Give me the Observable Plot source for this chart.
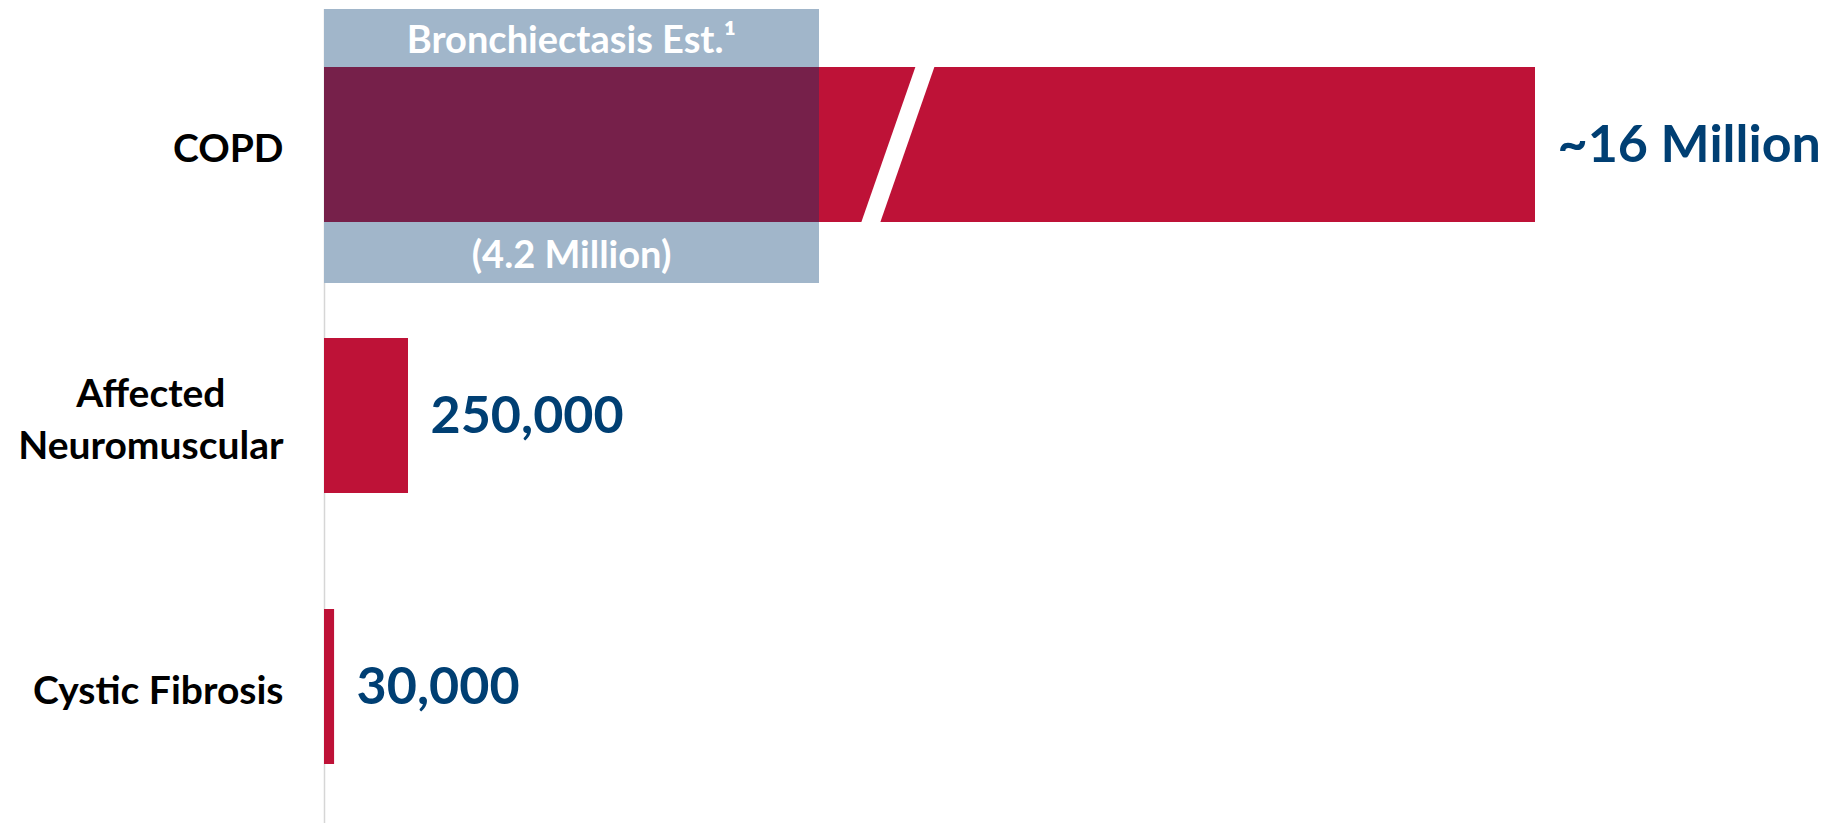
<!DOCTYPE html>
<html><head><meta charset="utf-8">
<script src="https://cdn.jsdelivr.net/npm/d3@7"></script>
<script src="https://cdn.jsdelivr.net/npm/@observablehq/plot@0.6"></script>
<style>html,body{margin:0;padding:0;background:#fff}</style>
</head><body><div id="chart"></div>
<script>
// ---- data ----
const categories = ["COPD", "Affected\nNeuromuscular", "Cystic Fibrosis"];
const values = [16000000, 250000, 30000];
const valueLabels = ["~16 Million", "250,000", "30,000"];
const estimateCategory = "COPD";
const estimateValue = 4200000;
const estimateTitle = "Bronchiectasis Est.\u00B9";
const estimateLabel = "(4.2 Million)";
const axisBreakAt = 5500000;                    // where the COPD bar is visually broken
const xKnots = [0, 250000, 4200000, 16000000];  // broken-axis knots (data units)
const xKnotUnits = [0, 84, 495, 1211];          // same knots on the drawn (broken) axis

const bars = categories.map((c, i) => ({category: c, value: values[i], label: valueLabels[i]}));
const estimate = [{category: estimateCategory, x1: 0, x2: estimateValue}];

// piecewise transform for the broken axis
const broken = d3.scaleLinear().domain(xKnots).range(xKnotUnits);

const FONT = "Lato, sans-serif";
const RED = "#BE1237", DARK = "#76204A", GRAY = "#A1B6CA", BLUE = "#003F73";

function xpx(scales, v) {
  const raw = scales.x(v);
  // if the scale function already includes the transform, use it directly
  return (raw > -5000 && raw < 5000) ? raw : scales.x(broken(v));
}
function breakMark(index, scales) {
  const y = scales.y;
  const y0 = y(estimateCategory), bw = y.bandwidth();
  const bx = xpx(scales, axisBreakAt), slant = 27, half = 9.5, k = slant * 2 / bw;
  const pts = [[bx + slant - half + k, y0 - 1], [bx + slant + half + k, y0 - 1],
               [bx - slant + half - k, y0 + bw + 1], [bx - slant - half - k, y0 + bw + 1]];
  return d3.create("svg:polygon").attr("points", pts.map(p => p.join(",")).join(" ")).attr("fill", "#fff").node();
}
function estimateLabels(index, scales) {
  const y = scales.y;
  const y0 = y(estimateCategory), bw = y.bandwidth();
  const cx = (xpx(scales, 0) + xpx(scales, estimateValue)) / 2;
  const g = d3.create("svg:g").attr("fill", "#fff").attr("font-weight", "bold")
    .attr("font-size", 38).attr("text-anchor", "middle").attr("font-family", FONT);
  g.append("text").attr("x", cx).attr("y", y0 - 29).attr("dy", "0.4em").text(estimateTitle);
  g.append("text").attr("x", cx).attr("y", y0 + bw + 30.5).attr("dy", "0.4em").text(estimateLabel);
  return g.node();
}

const chart = Plot.plot({
  width: 1827, height: 823,
  marginTop: 9, marginBottom: 0, marginLeft: 324, marginRight: 292,
  x: {transform: broken, domain: [0, 1211], range: [324, 1535], axis: null},
  y: {domain: categories, paddingInner: 0.427, paddingOuter: 0.21, axis: null},
  style: {fontFamily: FONT, background: "#fff", overflow: "visible"},
  marks: [
    Plot.ruleX([0], {stroke: "#d6d6d6", strokeWidth: 1.5}),
    Plot.barX(estimate, {y: "category", x1: "x1", x2: "x2", fill: GRAY, insetTop: -58, insetBottom: -61}),
    Plot.barX(bars, {y: "category", x: "value", fill: RED}),
    Plot.barX(estimate, {y: "category", x1: "x1", x2: "x2", fill: DARK}),
    breakMark,
    estimateLabels,
    Plot.text(bars, {y: "category", x: "value", text: "label", textAnchor: "start", dx: 22,
      fill: BLUE, fontWeight: "bold", fontSize: 52}),
    Plot.text(categories, {y: d => d, x: 0, text: d => d, textAnchor: "end", dx: -41,
      fill: "#000", fontWeight: "bold", fontSize: 39, lineHeight: 1.33})
  ]
});
document.getElementById("chart").appendChild(chart);

// center the lines of multi-line category labels on each other
chart.querySelectorAll("text").forEach(t => {
  const spans = t.querySelectorAll("tspan");
  if (spans.length > 1) {
    const ws = Array.from(spans, s => s.getComputedTextLength());
    const m = Math.max(...ws);
    spans.forEach((s, i) => s.setAttribute("x", -(m - ws[i]) / 2));
  }
});
</script></body></html>
